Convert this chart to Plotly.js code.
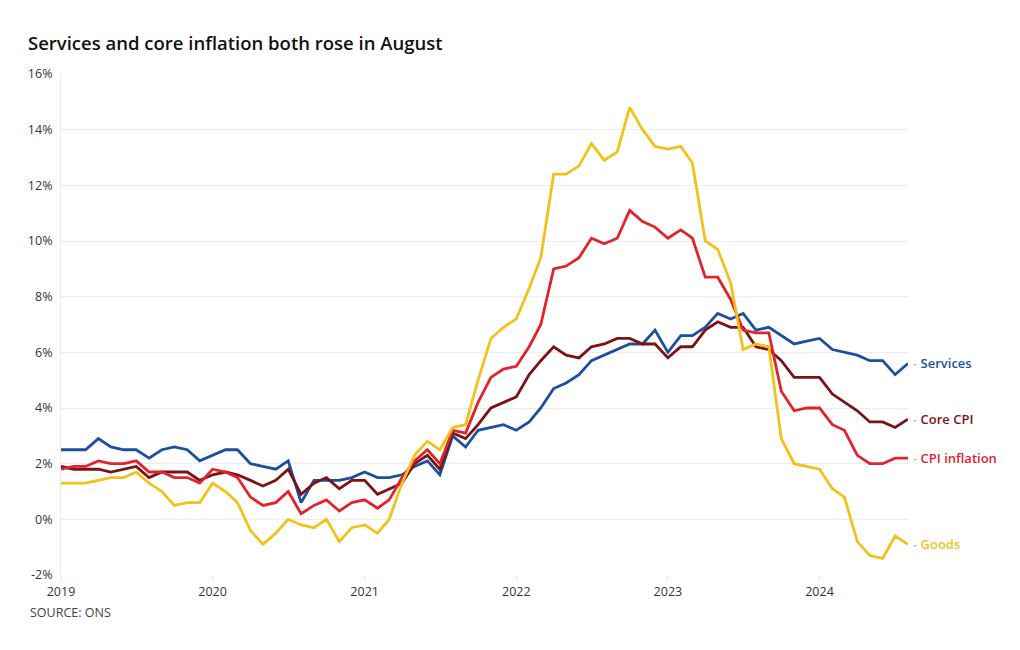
<!DOCTYPE html>
<html>
<head>
<meta charset="utf-8">
<script src="https://cdn.plot.ly/plotly-3.0.1.min.js"></script>
<style>
  html, body { margin: 0; padding: 0; background: #ffffff; }
  #chart { width: 1020px; height: 650px; }
</style>
</head>
<body>
<div id="chart"></div>
<script>
// Monthly series, Jan 2019 to Aug 2024 (annual % change)
const startYear = 2019;
const monthCount = 68;
const yearTicks = ['2019', '2020', '2021', '2022', '2023', '2024'];
const yTickValues = [-2, 0, 2, 4, 6, 8, 10, 12, 14, 16];
const yTickLabels = ['-2%', '0%', '2%', '4%', '6%', '8%', '10%', '12%', '14%', '16%'];

const services = [
  2.5, 2.5, 2.5, 2.9, 2.6, 2.5, 2.5, 2.2, 2.5, 2.6, 2.5, 2.1,
  2.3, 2.5, 2.5, 2.0, 1.9, 1.8, 2.1, 0.6, 1.4, 1.4, 1.4, 1.5,
  1.7, 1.5, 1.5, 1.6, 1.9, 2.1, 1.6, 3.0, 2.6, 3.2, 3.3, 3.4,
  3.2, 3.5, 4.0, 4.7, 4.9, 5.2, 5.7, 5.9, 6.1, 6.3, 6.3, 6.8,
  6.0, 6.6, 6.6, 6.9, 7.4, 7.2, 7.4, 6.8, 6.9, 6.6, 6.3, 6.4,
  6.5, 6.1, 6.0, 5.9, 5.7, 5.7, 5.2, 5.6
];
const coreCpi = [
  1.9, 1.8, 1.8, 1.8, 1.7, 1.8, 1.9, 1.5, 1.7, 1.7, 1.7, 1.4,
  1.6, 1.7, 1.6, 1.4, 1.2, 1.4, 1.8, 0.9, 1.3, 1.5, 1.1, 1.4,
  1.4, 0.9, 1.1, 1.3, 2.0, 2.3, 1.8, 3.1, 2.9, 3.4, 4.0, 4.2,
  4.4, 5.2, 5.7, 6.2, 5.9, 5.8, 6.2, 6.3, 6.5, 6.5, 6.3, 6.3,
  5.8, 6.2, 6.2, 6.8, 7.1, 6.9, 6.9, 6.2, 6.1, 5.7, 5.1, 5.1,
  5.1, 4.5, 4.2, 3.9, 3.5, 3.5, 3.3, 3.6
];
const cpiInflation = [
  1.8, 1.9, 1.9, 2.1, 2.0, 2.0, 2.1, 1.7, 1.7, 1.5, 1.5, 1.3,
  1.8, 1.7, 1.5, 0.8, 0.5, 0.6, 1.0, 0.2, 0.5, 0.7, 0.3, 0.6,
  0.7, 0.4, 0.7, 1.5, 2.1, 2.5, 2.0, 3.2, 3.1, 4.2, 5.1, 5.4,
  5.5, 6.2, 7.0, 9.0, 9.1, 9.4, 10.1, 9.9, 10.1, 11.1, 10.7, 10.5,
  10.1, 10.4, 10.1, 8.7, 8.7, 7.9, 6.8, 6.7, 6.7, 4.6, 3.9, 4.0,
  4.0, 3.4, 3.2, 2.3, 2.0, 2.0, 2.2, 2.2
];
const goods = [
  1.3, 1.3, 1.3, 1.4, 1.5, 1.5, 1.7, 1.3, 1.0, 0.5, 0.6, 0.6,
  1.3, 1.0, 0.6, -0.4, -0.9, -0.5, 0.0, -0.2, -0.3, 0.0, -0.8, -0.3,
  -0.2, -0.5, 0.0, 1.3, 2.3, 2.8, 2.5, 3.3, 3.4, 5.0, 6.5, 6.9,
  7.2, 8.3, 9.4, 12.4, 12.4, 12.7, 13.5, 12.9, 13.2, 14.8, 14.0, 13.4,
  13.3, 13.4, 12.8, 10.0, 9.7, 8.5, 6.1, 6.3, 6.2, 2.9, 2.0, 1.9,
  1.8, 1.1, 0.8, -0.8, -1.3, -1.4, -0.6, -0.9
];

const seriesNames = ['Services', 'Core CPI', 'CPI inflation', 'Goods'];
const seriesData = [services, coreCpi, cpiInflation, goods];
const seriesColors = ['#1d4f9c', '#7a1216', '#e2232c', '#f1c31a'];

// month dates
const months = [];
for (let i = 0; i < monthCount; i++) {
  const y = startYear + Math.floor(i / 12);
  const m = (i % 12) + 1;
  months.push(y + '-' + String(m).padStart(2, '0') + '-01');
}

const FONT = '"Open Sans", "Noto Sans", sans-serif';

const traces = seriesNames.map((name, i) => ({
  type: 'scatter',
  mode: 'lines',
  name: name,
  x: months,
  y: seriesData[i],
  line: { color: seriesColors[i], width: 2.8, shape: 'linear' },
  hoverinfo: 'x+y+name'
}));

const annotations = seriesNames.map((name, i) => ({
  x: months[months.length - 1],
  y: seriesData[i][seriesData[i].length - 1],
  xref: 'x', yref: 'y',
  xanchor: 'left', yanchor: 'middle',
  xshift: 3,
  showarrow: false,
  text: '<span style="color:#bbbbbb">-</span> ' + name,
  font: { family: FONT, size: 13, color: seriesColors[i], weight: 600 }
}));

annotations.push({
  xref: 'paper', yref: 'paper',
  x: -33 / 847, y: -0.053,
  xanchor: 'left', yanchor: 'top',
  showarrow: false,
  text: 'SOURCE: ONS',
  font: { family: FONT, size: 12.5, color: '#444444' }
});

const layout = {
  width: 1020,
  height: 650,
  paper_bgcolor: '#ffffff',
  plot_bgcolor: '#ffffff',
  margin: { l: 61, r: 112, t: 74, b: 75 },
  showlegend: false,
  title: {
    text: 'Services and core inflation both rose in August',
    x: 28 / 1020, xanchor: 'left',
    y: 1 - 44 / 650, yanchor: 'middle',
    font: { family: FONT, size: 18.5, color: '#111111', weight: 600 }
  },
  xaxis: {
    type: 'date',
    range: [months[0], months[months.length - 1]],
    tickvals: yearTicks.map(y => y + '-01-01'),
    ticktext: yearTicks,
    showgrid: false,
    zeroline: false,
    showline: false,
    ticks: 'outside',
    ticklen: 5,
    tickcolor: '#e6e6e6',
    tickfont: { family: FONT, size: 12.5, color: '#333333' }
  },
  yaxis: {
    range: [-2, 16],
    tickvals: yTickValues,
    ticktext: yTickLabels,
    showgrid: true,
    gridcolor: '#ececec',
    gridwidth: 1,
    zeroline: false,
    showline: true,
    linecolor: '#ececec',
    linewidth: 1,
    ticks: '',
    ticklabelstandoff: 5,
    tickfont: { family: FONT, size: 12.5, color: '#333333' }
  },
  annotations: annotations
};

Plotly.newPlot('chart', traces, layout, { displayModeBar: false, staticPlot: true });
</script>
</body>
</html>
